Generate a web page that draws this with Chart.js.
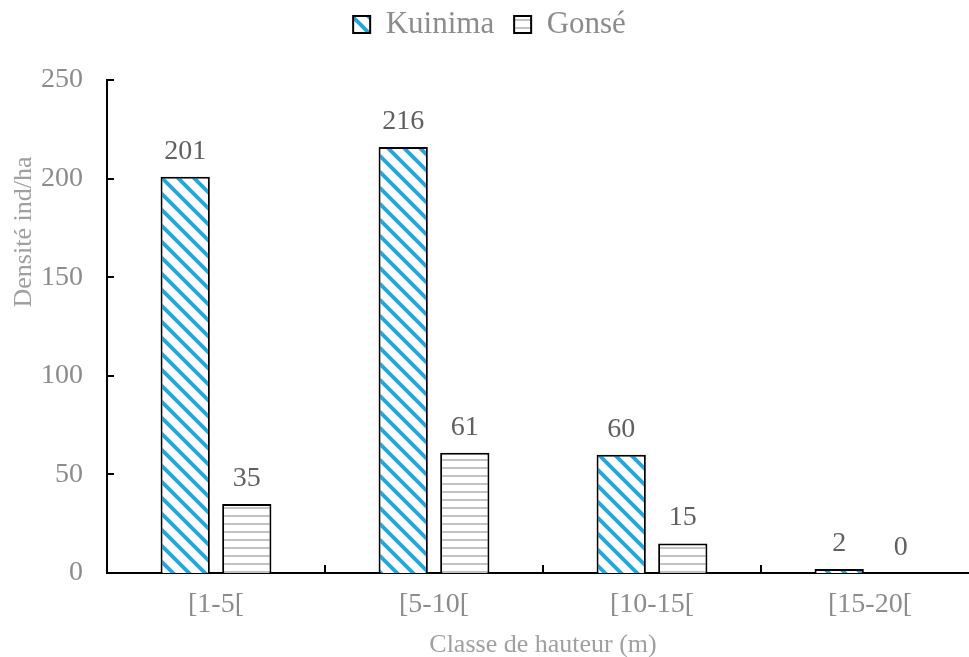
<!DOCTYPE html>
<html>
<head>
<meta charset="utf-8">
<script src="https://cdn.jsdelivr.net/npm/chart.js@4.4.1/dist/chart.umd.min.js"></script>
<style>
  html, body { margin: 0; padding: 0; background: #fff; overflow: hidden; }
  canvas { display: block; }
</style>
</head>
<body>
<canvas id="grafica" width="985" height="657"></canvas>
<script>
// Densité par classe de hauteur
const classes = ['[1-5[', '[5-10[', '[10-15[', '[15-20['];
const kuinima = [201, 216, 60, 2];
const gonse = [35, 61, 15, 0];
const yMin = 0, yMax = 250, yPas = 50;

const police = "'Liberation Serif', 'Times New Roman', serif";

const $grafica = document.querySelector('#grafica');
const ctx = $grafica.getContext('2d');

// motif hachuré bleu (diagonales descendantes)
function motifDiagonal() {
  const c = document.createElement('canvas');
  c.width = 16; c.height = 16;
  const g = c.getContext('2d');
  g.fillStyle = '#fff';
  g.fillRect(0, 0, 16, 16);
  g.strokeStyle = '#1fa7e0';
  g.lineWidth = 3.8;
  g.beginPath();
  for (const k of [-16, 0, 16]) {
    g.moveTo(k - 2, -2);
    g.lineTo(k + 18, 18);
  }
  g.stroke();
  return ctx.createPattern(c, 'repeat');
}

// motif lignes horizontales grises
function motifHorizontal() {
  const c = document.createElement('canvas');
  c.width = 8; c.height = 8;
  const g = c.getContext('2d');
  g.fillStyle = '#fff';
  g.fillRect(0, 0, 8, 8);
  g.fillStyle = '#c2c2c2';
  g.fillRect(0, 3, 8, 2);
  return ctx.createPattern(c, 'repeat');
}

// étiquettes de valeur au-dessus des barres
const etiquettes = {
  id: 'etiquettes',
  afterDatasetsDraw(chart) {
    const c = chart.ctx;
    c.save();
    c.font = '28px ' + police;
    c.fillStyle = '#606060';
    c.textAlign = 'center';
    c.textBaseline = 'alphabetic';
    chart.data.datasets.forEach((ds, i) => {
      chart.getDatasetMeta(i).data.forEach((bar, j) => {
        c.fillText(String(ds.data[j]), bar.x, bar.y - 18);
      });
    });
    c.restore();
  }
};

// graduations tournées vers l'intérieur + titre vertical
const axes = {
  id: 'axes',
  beforeLayout(chart) {
    const lg = chart.legend;
    if (lg && !lg._ajuste) {
      const fit = lg.fit;
      lg.fit = function () { fit.call(this); this.height = 91; };
      lg._ajuste = true;
    }
  },
  afterDraw(chart) {
    const c = chart.ctx;
    const x = chart.scales.x, y = chart.scales.y;
    const area = chart.chartArea;
    c.save();
    c.strokeStyle = '#000';
    c.lineWidth = 2;
    c.beginPath();
    y.ticks.forEach(t => {
      const py = Math.round(y.getPixelForValue(t.value));
      c.moveTo(area.left, py);
      c.lineTo(area.left + 7, py);
    });
    for (let i = 0; i < classes.length - 1; i++) {
      const px = Math.round((x.getPixelForValue(i) + x.getPixelForValue(i + 1)) / 2);
      c.moveTo(px, area.bottom);
      c.lineTo(px, area.bottom - 8);
    }
    c.stroke();

    c.translate(24, 232);
    c.rotate(-Math.PI / 2);
    c.font = '26px ' + police;
    c.fillStyle = '#a0a0a0';
    c.textAlign = 'center';
    c.textBaseline = 'middle';
    c.fillText('Densité ind/ha', 0, 0);
    c.restore();
  }
};

new Chart($grafica, {
  type: 'bar',
  data: {
    labels: classes,
    datasets: [
      {
        label: 'Kuinima',
        data: kuinima,
        backgroundColor: motifDiagonal(),
        borderColor: '#000',
        borderWidth: 2,
        borderSkipped: 'start'
      },
      {
        label: 'Gonsé',
        data: gonse,
        backgroundColor: motifHorizontal(),
        borderColor: '#000',
        borderWidth: 2,
        borderSkipped: 'start'
      }
    ]
  },
  options: {
    responsive: false,
    animation: false,
    layout: { padding: { top: -11, right: 6, left: 0, bottom: 0 } },
    datasets: {
      bar: { categoryPercentage: 0.565, barPercentage: 0.8 }
    },
    plugins: {
      legend: {
        position: 'top',
        labels: {
          font: { family: police, size: 31 },
          color: '#8c8c8c',
          boxWidth: 17,
          boxHeight: 17,
          padding: 20
        }
      },
      tooltip: { enabled: false }
    },
    scales: {
      x: {
        grid: { display: false, drawTicks: false },
        border: { display: true, color: '#000', width: 2 },
        ticks: {
          font: { family: police, size: 28 },
          color: '#8c8c8c',
          padding: 15
        },
        title: {
          display: true,
          text: 'Classe de hauteur (m)',
          font: { family: police, size: 26 },
          color: '#a0a0a0',
          padding: { top: 0, bottom: -4 }
        },
        afterFit(scale) { scale.height = 84; }
      },
      y: {
        min: yMin,
        max: yMax,
        grid: { display: false, drawTicks: false },
        border: { display: true, color: '#000', width: 2 },
        ticks: {
          stepSize: yPas,
          font: { family: police, size: 28 },
          color: '#8c8c8c',
          padding: 24
        },
        afterFit(scale) { scale.width = 107; }
      }
    }
  },
  plugins: [etiquettes, axes]
});
</script>
</body>
</html>
